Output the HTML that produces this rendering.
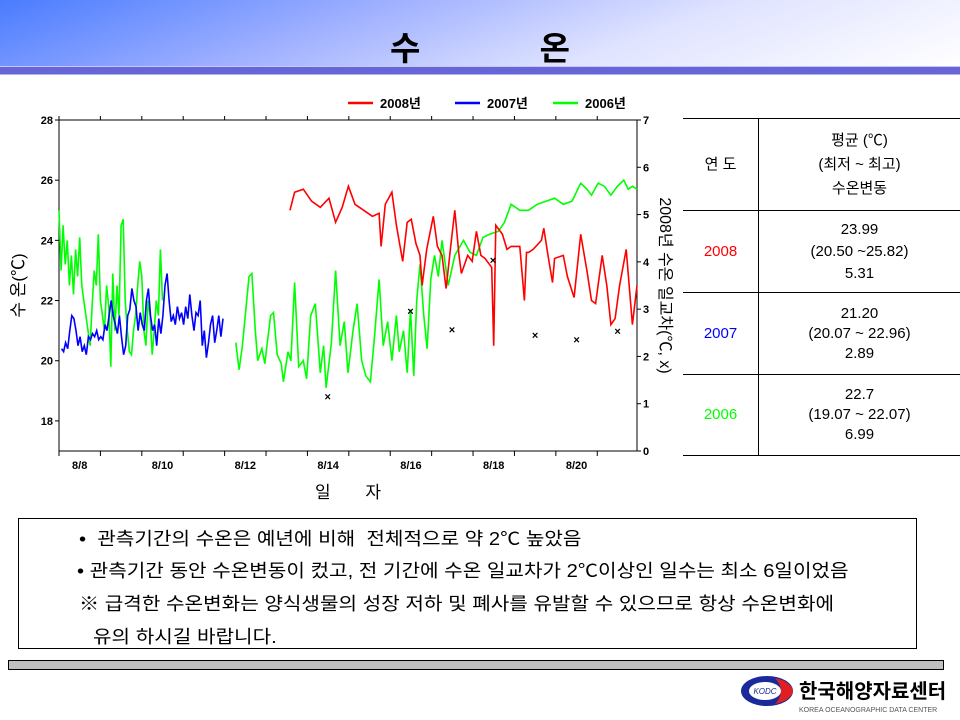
<!DOCTYPE html>
<html><head><meta charset="utf-8">
<style>
body{margin:0;width:960px;height:720px;overflow:hidden;background:#fff;font-family:"Liberation Sans","Noto Sans CJK KR",sans-serif;position:relative}
.hdr{position:absolute;left:0;top:0;width:960px;height:66px;background:linear-gradient(160deg,#4a7cff 0%,#9fb0ff 35%,#dfe3ff 65%,#ffffff 100%)}
.band{position:absolute;left:0;top:66px;width:960px;height:9px;background:#6666d8;border-top:1px solid #c8c8f0;border-bottom:1px solid #b0b0e8;box-sizing:border-box}
.title{position:absolute;top:22px;left:0;width:960px;text-align:center;font-size:33px;font-weight:bold;font-family:"Liberation Sans","Noto Sans CJK KR",sans-serif;word-spacing:110px}
table.st{position:absolute;left:683px;top:118px;width:277px;border-collapse:collapse;font-family:"Liberation Sans","Noto Sans CJK KR",sans-serif;font-size:15px}
table.st td{border-top:1px solid #000;border-bottom:1px solid #000;text-align:center;padding:0;line-height:24px}
table.st td.y{border-right:1px solid #000;width:75px}
.note{position:absolute;left:18px;top:518px;width:899px;height:131px;border:1px solid #000;box-sizing:border-box;font-family:"Liberation Sans","Noto Sans CJK KR",sans-serif;font-size:18px}
.note div{position:absolute;white-space:nowrap;transform-origin:0 0;transform:scaleX(1.12)}
.gbar{position:absolute;left:8px;top:660px;width:936px;height:10px;background:#c0c0c0;border:1px solid #000;box-sizing:border-box}
</style></head><body>
<div class="hdr"></div>
<div class="band"></div>
<div class="title">수 온</div>

<svg id="chart" width="960" height="720" style="position:absolute;left:0;top:0"></svg>

<table class="st">
<tr style="height:92px"><td class="y">연 도</td><td>평균 (℃)<br>(최저 ~ 최고)<br>수온변동</td></tr>
<tr style="height:82px"><td class="y" style="color:#f00">2008</td><td style="line-height:22px">23.99<br>(20.50 ~25.82)<br>5.31</td></tr>
<tr style="height:82px"><td class="y" style="color:#00f">2007</td><td style="line-height:20px">21.20<br>(20.07 ~ 22.96)<br>2.89</td></tr>
<tr style="height:81px"><td class="y" style="color:#0f0">2006</td><td style="line-height:20px">22.7<br>(19.07 ~ 22.07)<br>6.99</td></tr>
</table>

<div class="note">
<div style="left:60px;top:6px">•&nbsp; 관측기간의 수온은 예년에 비해&nbsp; 전체적으로 약 2℃ 높았음</div>
<div style="left:58px;top:38px">• 관측기간 동안 수온변동이 컸고, 전 기간에 수온 일교차가 2℃이상인 일수는 최소 6일이었음</div>
<div style="left:60px;top:71px">※ 급격한 수온변화는 양식생물의 성장 저하 및 폐사를 유발할 수 있으므로 항상 수온변화에</div>
<div style="left:74px;top:104px">유의 하시길 바랍니다.</div>
</div>
<div class="gbar"></div>

<svg width="220" height="46" style="position:absolute;left:735px;top:672px">
<ellipse cx="32" cy="19" rx="26" ry="15" fill="#1a2a9a"/>
<path d="M40 6 A26 15 0 0 1 58 19 A26 15 0 0 1 40 32 Q52 19 40 6Z" fill="#e02020"/>
<ellipse cx="30" cy="19" rx="16" ry="9" fill="#fff"/>
<text x="30" y="22" font-size="8" font-style="italic" fill="#1a2a9a" text-anchor="middle" font-family="Liberation Sans">KODC</text>
<text x="64" y="26" font-size="20" font-weight="bold" font-family="'Liberation Sans','Noto Sans CJK KR',sans-serif">한국해양자료센터</text>
<text x="64" y="40" font-size="7" fill="#555" font-family="Liberation Sans">KOREA OCEANOGRAPHIC DATA CENTER</text>
</svg>

<script>
const green1Start = 8.0, green1Step = 0.05;
const green1Temps = [25.0,23.0,24.5,23.2,24.0,22.5,23.5,22.2,23.7,22.8,24.1,22.5,22.0,21.5,21.0,20.5,21.8,23.0,22.5,24.2,22.0,21.5,21.0,22.5,21.8,19.8,22.9,21.0,22.5,21.5,24.5,24.7,22.0,21.0,20.3,20.2,21.0,21.5,22.5,23.3,22.8,21.0,20.5,22.0,21.5,20.2,21.0,22.0,21.5,23.7,22.0];
const blueStart = 8.06, blueStep = 0.05;
const blueTemps = [20.4,20.3,20.6,20.4,21.0,21.5,21.4,21.0,20.5,20.8,20.3,20.5,20.2,20.8,20.7,20.9,20.8,21.0,20.7,20.8,20.7,21.2,21.0,21.5,22.0,21.5,21.2,20.9,21.5,20.8,20.2,20.5,21.5,21.7,22.4,22.0,21.8,21.0,21.6,21.2,21.0,22.0,22.4,21.5,21.0,21.2,20.5,21.4,20.9,21.5,22.5,22.9,22.0,21.3,21.5,21.2,21.8,21.4,21.6,21.2,21.8,21.4,22.2,21.5,21.0,21.6,21.5,22.0,20.5,21.0,20.1,20.6,21.2,21.5,20.6,21.0,21.5,20.8,21.4];
const green2Days = [12.27,12.35,12.43,12.59,12.66,12.74,12.80,12.90,12.97,13.11,13.18,13.27,13.37,13.42,13.53,13.60,13.69,13.79,13.90,13.98,14.08,14.19,14.31,14.39,14.45,14.58,14.68,14.79,14.89,14.98,15.10,15.20,15.31,15.41,15.52,15.62,15.73,15.83,15.94,16.04,16.15,16.22,16.32,16.41,16.49,16.57,16.64,16.72,16.81,16.89,16.98,17.07,17.16,17.25,17.40,17.56,17.77,17.93,18.08,18.24,18.40,18.61,18.76,18.92,19.13,19.34,19.55,19.76,19.97,20.18,20.39,20.60,20.75,20.86,21.02,21.17,21.33,21.49,21.64,21.75,21.85,21.96];
const green2Temps = [20.6,19.7,20.5,22.8,22.9,21.0,20.0,20.4,19.9,21.5,21.6,20.2,19.9,19.3,20.3,20.0,22.6,19.8,20.0,19.4,21.5,21.9,19.6,20.5,19.1,20.6,23.0,20.5,21.3,19.6,21.0,21.9,20.0,19.5,19.3,20.8,22.7,20.5,21.3,20.0,21.5,20.3,21.0,19.6,21.7,19.5,22.0,23.2,21.5,20.4,22.7,23.5,22.8,24.0,22.5,23.5,24.0,23.6,23.5,24.1,24.2,24.3,24.6,25.2,25.0,25.0,25.2,25.3,25.4,25.2,25.3,25.9,25.7,25.5,25.9,25.8,25.5,25.8,26.0,25.7,25.8,25.7];
const redDays = [13.58,13.69,13.90,14.10,14.31,14.52,14.68,14.84,14.99,15.15,15.36,15.57,15.73,15.78,15.88,16.04,16.15,16.25,16.30,16.41,16.51,16.62,16.72,16.77,16.88,17.04,17.14,17.25,17.35,17.46,17.56,17.66,17.72,17.87,17.98,18.08,18.19,18.29,18.45,18.50,18.55,18.71,18.82,18.92,19.13,19.24,19.29,19.34,19.45,19.65,19.71,19.81,19.92,19.97,20.18,20.28,20.44,20.60,20.75,20.86,20.96,21.12,21.23,21.33,21.43,21.54,21.70,21.85,21.96];
const redTemps = [25.0,25.6,25.7,25.3,25.1,25.4,24.6,25.1,25.8,25.2,25.0,24.8,24.9,23.8,25.2,25.6,24.5,23.7,23.3,24.6,24.7,23.9,23.5,22.5,23.7,24.8,23.8,23.5,22.4,23.8,25.0,23.5,22.9,23.5,23.3,24.3,23.5,23.4,23.1,20.5,24.5,24.2,23.7,23.8,23.8,22.0,23.6,23.6,23.7,24.0,24.4,23.5,22.6,23.4,23.5,22.8,22.1,24.2,23.0,22.0,21.9,23.5,22.5,21.2,21.4,22.5,23.7,21.2,22.5];
const rangeDays = [14.49,16.49,17.49,18.48,19.50,20.50,21.49];
const rangeValues = [1.15,2.96,2.57,4.04,2.45,2.36,2.54];
const leftTicks = [18,20,22,24,26,28];
const rightTicks = [0,1,2,3,4,5,6,7];
const dayLabels = ['8/8','8/10','8/12','8/14','8/16','8/18','8/20'];
const dayLabelPos = [8,10,12,14,16,18,20];

const NS='http://www.w3.org/2000/svg';
const svg=document.getElementById('chart');
const X0=59,X1=637,Y0=451,Y1=120;
const D0=8,D1=21.96;
const xs=d=>X0+(d-D0)/(D1-D0)*(X1-X0);
const yl=t=>Y0-(t-17)/(28-17)*(Y0-Y1);
const yr=v=>Y0-v/7*(Y0-Y1);
function mk(tag,at,parent){const e=document.createElementNS(NS,tag);for(const k in at)e.setAttribute(k,at[k]);(parent||svg).appendChild(e);return e;}
const F='"Liberation Sans","Noto Sans CJK KR",sans-serif';

let fr=mk('rect',{x:X0,y:Y1,width:X1-X0,height:Y0-Y1,fill:'none',stroke:'#000','stroke-width':1});



leftTicks.forEach(t=>{
  mk('line',{x1:X0-4,x2:X0,y1:yl(t),y2:yl(t),stroke:'#000'});
  const tx=mk('text',{x:X0-6,y:yl(t)+4,'font-size':11,'font-weight':'bold','text-anchor':'end','font-family':F});
  tx.textContent=t;
  
  
});
rightTicks.forEach(v=>{
  mk('line',{x1:X1,x2:X1+4,y1:yr(v),y2:yr(v),stroke:'#000'});
  const tx=mk('text',{x:X1+6,y:yr(v)+4,'font-size':11,'font-weight':'bold','font-family':F});
  tx.textContent=v;
  
  
});
for(let d=8;d<=21;d++){
  mk('line',{x1:xs(d),x2:xs(d),y1:Y0,y2:Y0+5,stroke:'#000'});
  mk('line',{x1:xs(d),x2:xs(d),y1:Y1,y2:Y1-4,stroke:'#000'});
}
dayLabels.forEach((l,i)=>{
  const tx=mk('text',{x:xs(dayLabelPos[i]+0.5),y:Y0+18,'font-size':11,'font-weight':'bold','text-anchor':'middle','font-family':F});
  tx.textContent=l;
  
  
});

function line(days,temps,color,name){
  const p=days.map((d,i)=>xs(d).toFixed(1)+','+yl(temps[i]).toFixed(1)).join(' ');
  const e=mk('polyline',{points:p,fill:'none',stroke:color,'stroke-width':1.6});
  
  
}
line(green1Temps.map((t,i)=>green1Start+i*green1Step),green1Temps,'#00ff00','series-2006-part1');
line(blueTemps.map((t,i)=>blueStart+i*blueStep),blueTemps,'#0000ff','series-2007');
line(green2Days,green2Temps,'#00ff00','series-2006-part2');
line(redDays,redTemps,'#ff0000','series-2008');

rangeDays.forEach((d,i)=>{
  const tx=mk('text',{x:xs(d),y:yr(rangeValues[i])+4,'font-size':11,'font-weight':'bold','text-anchor':'middle','font-family':F});
  tx.textContent='×';
  
  
});

[['#ff0000','2008년',348],['#0000ff','2007년',455],['#00ff00','2006년',553]].forEach(l=>{
  mk('line',{x1:l[2],x2:l[2]+25,y1:103,y2:103,stroke:l[0],'stroke-width':2.5});
  const tx=mk('text',{x:l[2]+32,y:108,'font-size':13,'font-weight':'bold','font-family':F});
  tx.textContent=l[1];
  
  
});

let yt=mk('text',{transform:`translate(24,${(Y0+Y1)/2}) rotate(-90)`,'font-size':17,'text-anchor':'middle','font-family':F});
yt.textContent='수  온(℃)';


let rt=mk('text',{transform:`translate(660,${(Y0+Y1)/2}) rotate(90)`,'font-size':16,'text-anchor':'middle','font-family':F});
rt.textContent='2008년 수온 일교차(℃, x)';


let xt=mk('text',{x:348,y:498,'font-size':17,'text-anchor':'middle','font-family':F,'word-spacing':30});
xt.textContent='일 자';


</script>
</body></html>
